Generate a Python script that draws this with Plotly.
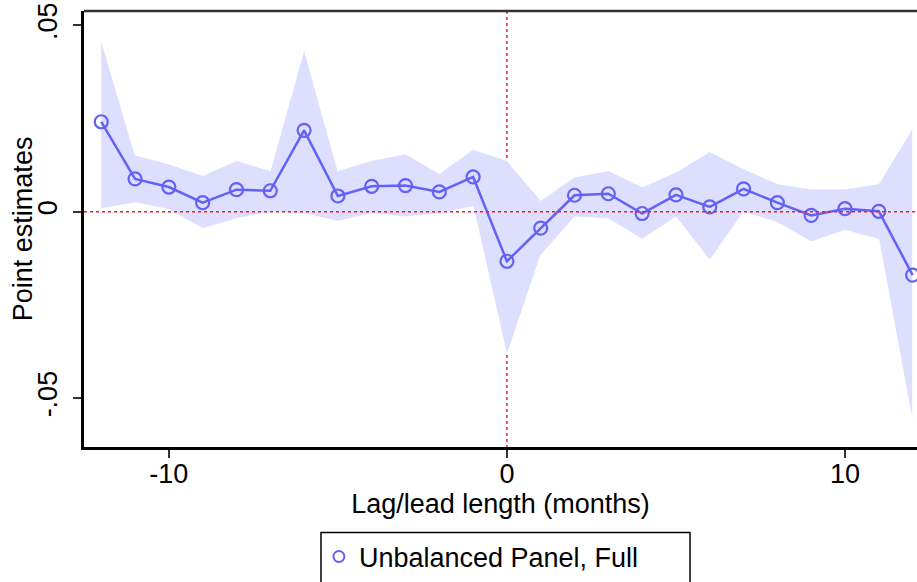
import plotly.graph_objects as go

lags = list(range(-12, 13))
estimates = [0.0241, 0.0088, 0.0066, 0.0024, 0.0059, 0.0056, 0.0218, 0.0042, 0.0068, 0.0070,
             0.0053, 0.0093, -0.0133, -0.0044, 0.0044, 0.0048, -0.0005, 0.0045, 0.0013, 0.0061,
             0.0024, -0.0010, 0.0008, 0.0001, -0.0170]
ci_upper = [0.0460, 0.0152, 0.0128, 0.0097, 0.0137, 0.0110, 0.0435, 0.0110, 0.0137, 0.0155,
            0.0102, 0.0167, 0.0137, 0.0030, 0.0093, 0.0110, 0.0066, 0.0106, 0.0161, 0.0115,
            0.0075, 0.0061, 0.0061, 0.0075, 0.0224]
ci_lower = [0.0008, 0.0024, 0.0006, -0.0045, -0.0019, -0.0001, -0.0005, -0.0026, -0.0005, -0.0014,
            -0.0005, 0.0014, -0.0384, -0.0117, -0.0014, -0.0019, -0.0074, -0.0014, -0.0130, -0.0001,
            -0.0029, -0.0081, -0.0050, -0.0074, -0.0565]
x_ticks = [-10, 0, 10]
x_tick_labels = ["-10", "0", "10"]
y_ticks = [-0.05, 0, 0.05]
y_tick_labels = ["-.05", "0", ".05"]
x_range = [-12.51, 12.13]
y_range = [-0.0631, 0.0538]
event_lag = 0

line_color = "rgb(98,98,245)"
fill_color = "rgb(222,222,255)"
font = "Liberation Sans, Arial, sans-serif"
fs = 27

i0 = lags.index(event_lag)

fig = go.Figure()
fig.add_trace(go.Scatter(
    x=lags + lags[::-1], y=ci_upper + ci_lower[::-1],
    fill="toself", fillcolor=fill_color, mode="lines",
    line=dict(color="rgba(255,255,255,0.9)", width=1),
    showlegend=False, hoverinfo="skip"))
# vertical reference line, hidden where the confidence band covers it
fig.add_trace(go.Scatter(
    x=[event_lag, event_lag, None, event_lag, event_lag],
    y=[y_range[1], ci_upper[i0], None, ci_lower[i0], y_range[0]], mode="lines",
    line=dict(color="rgb(220,30,80)", width=1.5, dash="dot"),
    showlegend=False, hoverinfo="skip"))
fig.add_trace(go.Scatter(
    x=lags, y=estimates, mode="lines+markers",
    line=dict(color=line_color, width=2.5),
    marker=dict(symbol="circle-open", size=13, color=line_color, line=dict(width=2.2, color=line_color)),
    showlegend=False))
fig.add_trace(go.Scatter(
    x=[None], y=[None], mode="markers", name="Unbalanced Panel, Full",
    marker=dict(symbol="circle-open", size=11, color=line_color, line=dict(width=2, color=line_color))))

fig.add_shape(type="line", xref="paper", yref="y", x0=0, x1=1, y0=0, y1=0,
              line=dict(color="rgb(240,30,40)", width=1.5, dash="dot"), layer="above")
# top frame line
fig.add_shape(type="line", xref="paper", yref="paper", x0=0, x1=1, y0=1, y1=1,
              line=dict(color="#333333", width=2.5), layer="above")
# legend frame
fig.add_shape(type="rect", xref="paper", yref="paper", x0=0.2845, x1=0.7275, y0=-0.322, y1=-0.1963,
              line=dict(color="black", width=1.5), fillcolor="rgba(0,0,0,0)", layer="above")

fig.add_annotation(text="Point estimates", xref="paper", yref="paper", x=-0.073, y=0.5,
                   xanchor="center", yanchor="middle", textangle=-90, showarrow=False,
                   font=dict(size=fs))

fig.update_layout(
    width=917, height=582,
    margin=dict(l=84, r=0, t=11, b=133),
    plot_bgcolor="white", paper_bgcolor="white",
    font=dict(family=font, size=fs, color="black"),
    xaxis=dict(range=x_range, tickvals=x_ticks, ticktext=x_tick_labels,
               showgrid=False, zeroline=False, showline=True, linecolor="black", linewidth=2.5,
               ticks="outside", ticklen=8, tickwidth=2, tickcolor="#333",
               tickfont=dict(size=fs), ticklabelstandoff=-7,
               title=dict(text="Lag/lead length (months)", font=dict(size=fs), standoff=2)),
    yaxis=dict(range=y_range, tickvals=y_ticks, ticktext=y_tick_labels,
               showgrid=False, zeroline=False, showline=True, linecolor="black", linewidth=2.5,
               ticks="outside", ticklen=8, tickwidth=2, tickcolor="#333",
               tickangle=-90, tickfont=dict(size=fs), ticklabelstandoff=5),
    legend=dict(x=0.282, xanchor="left", y=-0.196, yanchor="top",
                borderwidth=0, bgcolor="rgba(0,0,0,0)",
                font=dict(size=fs), orientation="h", itemwidth=30),
)

fig.write_html("out.html")
